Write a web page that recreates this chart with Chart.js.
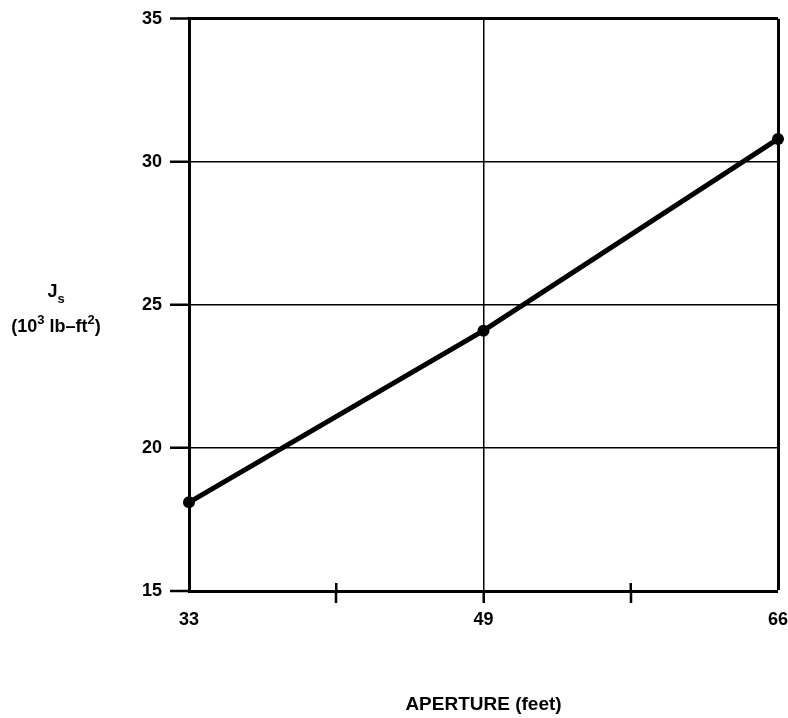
<!DOCTYPE html>
<html>
<head>
  <title>Js vs Aperture</title>
  <script src="https://cdn.jsdelivr.net/npm/chart.js"></script>
  <style>
    body {
      margin: 0;
      background: #fff;
    }
    #wrap {
      width: 788px;
      height: 718px;
    }
  </style>
</head>
<body>
  <div id="wrap"><canvas id="jsChart" width="788" height="718"></canvas></div>

  <script>
    // aperture (feet) - evenly spaced, blank slots are the unlabeled minor ticks
    const apertureLabels = ['33', '', '49', '', '66'];
    const jsValues = [18.1, null, 24.1, null, 30.8];
    const yTicks = [15, 20, 25, 30, 35];
    const minorTickIdx = [1, 3];

    const FONT = '"Liberation Sans", Arial, sans-serif';

    // y title is horizontal with sub/superscripts, and the minor x ticks cross the axis
    const extras = {
      id: 'extras',
      afterDraw(chart) {
        const ctx = chart.ctx;
        const x = chart.scales.x;
        const y = chart.scales.y;
        ctx.save();
        ctx.strokeStyle = '#000';
        ctx.lineWidth = 2.5;
        minorTickIdx.forEach(i => {
          const px = x.getPixelForValue(i);
          ctx.beginPath();
          ctx.moveTo(px, y.bottom - 8);
          ctx.lineTo(px, y.bottom);
          ctx.stroke();
        });

        ctx.fillStyle = '#000';
        ctx.textBaseline = 'alphabetic';
        const cx = 56;
        const mid = y.getPixelForValue(25);
        const big = 'bold 18px ' + FONT;
        const small = 'bold 13px ' + FONT;

        // line 1: J with subscript s
        const parts1 = [['J', big, 0], ['s', small, 6]];
        // line 2: (10^3 lb-ft^2)
        const parts2 = [['(10', big, 0], ['3', small, -8], [' lb\u2013ft', big, 0], ['2', small, -8], [')', big, 0]];
        const drawLine = (parts, base) => {
          let w = 0;
          parts.forEach(p => { ctx.font = p[1]; w += ctx.measureText(p[0]).width; });
          let px = cx - w / 2;
          parts.forEach(p => {
            ctx.font = p[1];
            ctx.fillText(p[0], px, base + p[2]);
            px += ctx.measureText(p[0]).width;
          });
        };
        drawLine(parts1, mid - 8);
        drawLine(parts2, mid + 27);
        ctx.restore();
      }
    };

    const ctx = document.getElementById('jsChart').getContext('2d');
    const chart = new Chart(ctx, {
      type: 'line',
      data: {
        labels: apertureLabels,
        datasets: [{
          data: jsValues,
          spanGaps: true,
          borderColor: '#000',
          backgroundColor: '#000',
          borderWidth: 5,
          pointRadius: 6,
          pointBackgroundColor: '#000',
          pointBorderWidth: 0,
          tension: 0,
          clip: false
        }]
      },
      options: {
        responsive: false,
        animation: false,
        layout: {
          padding: { left: 0, right: 10, top: 16, bottom: 0 }
        },
        plugins: {
          legend: { display: false },
          tooltip: { enabled: false }
        },
        scales: {
          x: {
            type: 'category',
            offset: false,
            border: { display: true, color: '#000', width: 3 },
            grid: {
              color: '#000',
              lineWidth: c => (c.index === 2 ? 1.5 : (c.index === 4 ? 3 : 0)),
              tickColor: '#000',
              tickWidth: c => (c.index === 0 || c.index === 4 ? 0 : 2.5),
              tickLength: 12
            },
            ticks: {
              autoSkip: false,
              maxRotation: 0,
              color: '#000',
              padding: 6,
              font: { family: FONT, size: 18, weight: 'bold' }
            },
            title: {
              display: true,
              text: 'APERTURE (feet)',
              color: '#000',
              padding: { top: 0, bottom: 2 },
              font: { family: FONT, size: 19, weight: 'bold' }
            },
            afterFit(scale) {
              scale.height = 127;
              scale.paddingLeft = 0;
              scale.paddingRight = 0;
            }
          },
          y: {
            min: 15,
            max: 35,
            border: { display: true, color: '#000', width: 3 },
            afterBuildTicks(scale) {
              scale.ticks = yTicks.map(v => ({ value: v }));
            },
            grid: {
              color: '#000',
              lineWidth: c => (c.tick.value === 35 ? 3 : (c.tick.value === 15 ? 0 : 1.5)),
              tickColor: '#000',
              tickWidth: 2.5,
              tickLength: 19
            },
            ticks: {
              color: '#000',
              padding: 8,
              font: { family: FONT, size: 18, weight: 'bold' }
            },
            afterFit(scale) { scale.width = 189; }
          }
        }
      },
      plugins: [extras]
    });
  </script>
</body>
</html>
